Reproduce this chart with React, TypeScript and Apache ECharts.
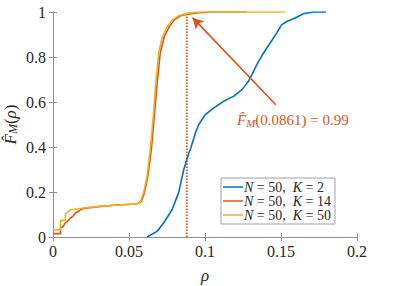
import React, { useEffect, useRef } from "react";
import * as echarts from "echarts";

const seriesNames = ["K2", "K14", "K50"];
const legendLabels = ["{i|N} = 50,  {i|K} = 2", "{i|N} = 50,  {i|K} = 14", "{i|N} = 50,  {i|K} = 50"];
const colors = ["#0072BD", "#D95319", "#EDB120"];

const cdfK2: [number, number][] = [
  [0.0619, 0], [0.0684, 0.025], [0.0728, 0.062], [0.0783, 0.121], [0.0826, 0.196], [0.086, 0.299],
  [0.0892, 0.37], [0.0903, 0.388], [0.0937, 0.462], [0.0958, 0.499], [0.1002, 0.544], [0.1056, 0.573],
  [0.1122, 0.603], [0.1188, 0.625], [0.1243, 0.655], [0.1286, 0.692], [0.1308, 0.721], [0.1341, 0.766],
  [0.1385, 0.818], [0.1429, 0.862], [0.1472, 0.907], [0.1505, 0.944], [0.1538, 0.958], [0.1593, 0.973],
  [0.1647, 0.992], [0.1713, 1], [0.1796, 1],
];

const cdfK14: [number, number][] = [
  [0, 0.015], [0.0049, 0.015], [0.0049, 0.04], [0.0065, 0.045], [0.008, 0.062], [0.0098, 0.072],
  [0.0115, 0.084], [0.0132, 0.093], [0.0148, 0.107], [0.0165, 0.113], [0.018, 0.121], [0.0202, 0.127],
  [0.0312, 0.136], [0.0422, 0.142], [0.0553, 0.147], [0.0581, 0.158], [0.0601, 0.196], [0.0624, 0.27],
  [0.0647, 0.39], [0.0667, 0.54], [0.0686, 0.69], [0.0706, 0.82], [0.0732, 0.89], [0.0765, 0.935],
  [0.0798, 0.965], [0.0844, 0.985], [0.0887, 0.99], [0.0956, 0.997], [0.1034, 1], [0.1275, 1],
];

const cdfK50: [number, number][] = [
  [0, 0.032], [0.0049, 0.032], [0.0049, 0.074], [0.0082, 0.074], [0.0082, 0.104], [0.01, 0.112],
  [0.0115, 0.121], [0.0202, 0.129], [0.0312, 0.136], [0.0422, 0.142], [0.0553, 0.147], [0.0575, 0.158],
  [0.0596, 0.196], [0.0619, 0.27], [0.064, 0.39], [0.066, 0.54], [0.0677, 0.69], [0.0696, 0.82],
  [0.0719, 0.89], [0.0752, 0.935], [0.0785, 0.965], [0.0831, 0.985], [0.089, 0.995], [0.097, 1], [0.1527, 1],
];

const markerText = "0.0861";
const markerValue = "0.99";
const vline: [number, number][] = [[0.088, 0], [0.088, 1]];
const arrowStart: [number, number] = [0.1466, 0.588];
const arrowEnd: [number, number] = [0.0918, 0.975];

const FONT = "Liberation Serif";
const AXIS_COLOR = "#8f8f8f";
const TEXT_COLOR = "#262626";

export default function App() {
  const ref = useRef<HTMLDivElement>(null);
  useEffect(() => {
    if (!ref.current) return;
    const chart = echarts.init(ref.current, null, { renderer: "svg" });
    const axisCommon = {
      axisLine: { show: true, lineStyle: { color: AXIS_COLOR, width: 1 } },
      axisTick: { show: true, inside: true, length: 4, lineStyle: { color: AXIS_COLOR } },
      splitLine: { show: false },
    };
    const dataSets = [cdfK2, cdfK14, cdfK50];
    chart.setOption({
      animation: false,
      textStyle: { fontFamily: FONT },
      grid: { left: 53, right: 38, top: 12, bottom: 49, containLabel: false, outerBoundsMode: "none" },
      legend: {
        orient: "vertical",
        left: 221,
        top: 178,
        width: 131,
        padding: [2, 4, 2, 2],
        itemGap: 0,
        itemWidth: 20,
        itemHeight: 17,
        backgroundColor: "#fff",
        borderColor: "#a0a0a0",
        borderWidth: 1,
        borderRadius: 0,
        data: seriesNames.map((n) => ({ name: n, icon: "path://M0,8 L20,8 L20,9.5 L0,9.5 Z" })),
        formatter: (name: string) => legendLabels[seriesNames.indexOf(name)],
        textStyle: {
          fontFamily: FONT,
          fontSize: 14,
          color: TEXT_COLOR,
          padding: [0, 0, 0, -4],
          rich: {
            i: { fontFamily: FONT, fontSize: 14, fontStyle: "italic", color: TEXT_COLOR },
          },
        },
      },
      xAxis: [
        {
          type: "value",
          min: 0,
          max: 0.2,
          interval: 0.05,
          position: "bottom",
          ...axisCommon,
          axisLabel: { fontFamily: FONT, fontSize: 16, color: TEXT_COLOR, margin: 6 },
          name: "ρ",
          nameLocation: "middle",
          nameGap: 30,
          nameMoveOverlap: false,
          nameTextStyle: { fontFamily: FONT, fontSize: 17, fontStyle: "italic", color: TEXT_COLOR },
        },
        {
          type: "value",
          min: 0,
          max: 0.2,
          interval: 0.05,
          position: "top",
          ...axisCommon,
          axisLabel: { show: false },
        },
      ],
      yAxis: [
        {
          type: "value",
          min: 0,
          max: 1,
          interval: 0.2,
          position: "left",
          ...axisCommon,
          axisLabel: { fontFamily: FONT, fontSize: 16, color: TEXT_COLOR, margin: 7 },
          name: "{i|F̂}{sub|M}{n|(}{i|ρ}{n|)}",
          nameLocation: "middle",
          nameGap: 34,
          nameMoveOverlap: false,
          nameRotate: 90,
          nameTextStyle: {
            fontFamily: FONT,
            fontSize: 17,
            color: TEXT_COLOR,
            lineHeight: 18,
            rich: {
              i: { fontFamily: FONT, fontSize: 17, fontStyle: "italic", color: TEXT_COLOR, lineHeight: 18 },
              n: { fontFamily: FONT, fontSize: 17, color: TEXT_COLOR, lineHeight: 18 },
              sub: { fontFamily: FONT, fontSize: 12, fontStyle: "italic", color: TEXT_COLOR, lineHeight: 9, verticalAlign: "bottom" },
            },
          },
        },
        {
          type: "value",
          min: 0,
          max: 1,
          interval: 0.2,
          position: "right",
          ...axisCommon,
          axisLabel: { show: false },
        },
      ],
      series: [
        {
          name: "vline",
          type: "line",
          data: vline,
          showSymbol: false,
          symbol: "none",
          lineStyle: { color: colors[1], width: 1.8, type: [1.5, 1.5] },
          silent: true,
          z: 1,
        },
        ...dataSets.map((d, i) => ({
          name: seriesNames[i],
          type: "line",
          data: d,
          symbol: "none",
          showSymbol: false,
          color: colors[i],
          lineStyle: { color: colors[i], width: 1.6 },
          z: 2 + i,
          ...(i === 1
            ? {
                markLine: {
                  silent: true,
                  symbol: ["none", "arrow"],
                  symbolSize: [9, 11],
                  label: { show: false },
                  lineStyle: { color: colors[1], width: 1.6, type: "solid" },
                  data: [[{ coord: arrowStart }, { coord: arrowEnd }]],
                },
              }
            : {}),
        })),
      ],
      graphic: [
        {
          type: "text",
          left: 237,
          top: 111,
          style: {
            text: `{i|F̂}{sub|M}{n|(${markerText}) = ${markerValue}}`,
            fontFamily: FONT,
            fontSize: 15,
            fill: colors[1],
            lineHeight: 17,
            rich: {
              i: { fontFamily: FONT, fontSize: 15, fontStyle: "italic", fill: colors[1], lineHeight: 17 },
              n: { fontFamily: FONT, fontSize: 15, fill: colors[1], lineHeight: 17 },
              sub: { fontFamily: FONT, fontSize: 11, fontStyle: "italic", fill: colors[1], lineHeight: 8, verticalAlign: "bottom" },
            },
          },
        },
      ],
    });
    return () => chart.dispose();
  }, []);
  return (
    <div
      ref={ref}
      style={{ position: "fixed", left: 0, top: 0, width: 395, height: 286, background: "#fff" }}
    />
  );
}
